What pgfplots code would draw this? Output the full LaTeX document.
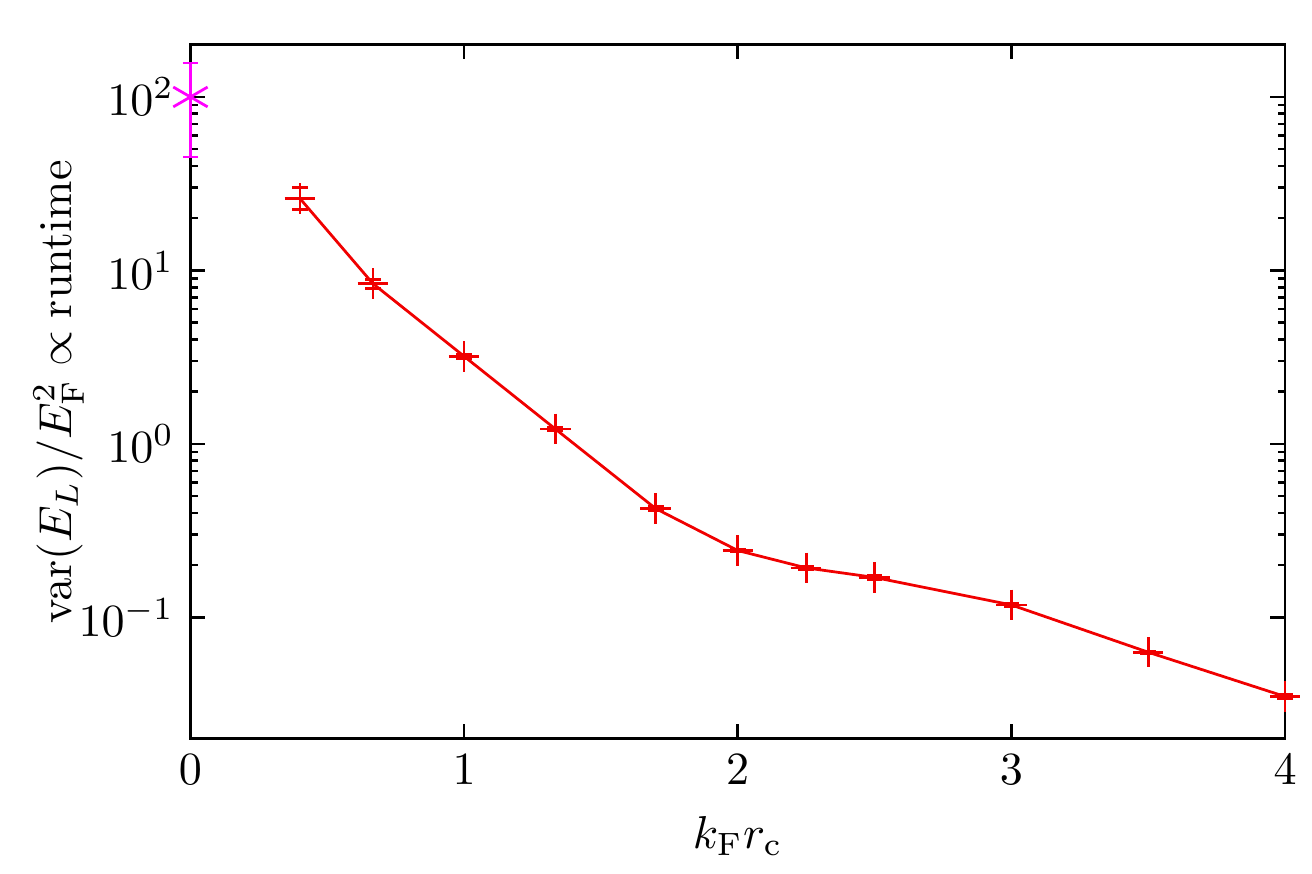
\documentclass[border=0pt]{standalone}
\usepackage{pgfplots}
\pgfplotsset{compat=1.18}
\definecolor{mag}{RGB}{255,0,255}
\definecolor{myred}{RGB}{240,0,0}
\begin{document}
\begin{tikzpicture}
\begin{axis}[
  scale only axis,
  width=237.4pt, height=150.5pt,
  xmin=0, xmax=4, ymin=0.02, ymax=200,
  ymode=log,
  xtick={0,1,2,3,4},
  ytick={0.1,1,10,100},
  tick align=inside,
  major tick length=3.2pt,
  minor tick length=1.6pt,
  axis line style={line width=0.55pt},
  every tick/.style={black, line width=0.55pt},
  clip=false,
  xlabel={$k_\mathrm{F}r_\mathrm{c}$},
  ylabel={$\mathrm{var}(E_L)/E_\mathrm{F}^2 \propto \mathrm{runtime}$},
  ylabel style={yshift=-8pt},
  xlabel style={yshift=0pt},
]
\addplot[myred, line width=0.6pt, mark=+, mark size=3.3pt, mark options={line width=0.6pt},
  error bars/.cd, y dir=both, y explicit, error mark options={rotate=90, mark size=1.7pt, line width=0.6pt, myred}, error bar style={line width=0.6pt, myred}]
  table[x=x, y=y, y error plus=ep, y error minus=em] {
x y ep em
0.4 26 4 3.5
0.6667 8.4 0.5 0.5
1 3.2 0.1 0.1
1.3333 1.22 0.03 0.03
1.7 0.424 0.01 0.01
2 0.243 0.005 0.005
2.25 0.193 0.004 0.004
2.5 0.170 0.004 0.004
3 0.118 0.002 0.002
3.5 0.063 0.001 0.001
4 0.035 0.001 0.001
};
\addplot[mag, only marks, mark=asterisk, mark size=4.3pt, mark options={line width=0.6pt},
  error bars/.cd, y dir=both, y explicit, error mark options={rotate=90, mark size=1.7pt, line width=0.6pt, mag}, error bar style={line width=0.6pt, mag}]
  table[x=x, y=y, y error plus=ep, y error minus=em] {
x y ep em
0 100 57 55
};
\path (rel axis cs:0,0) ++(-41.3pt,-29.2pt) rectangle ++(282.3pt,189.4pt);
\end{axis}
\end{tikzpicture}
\end{document}
